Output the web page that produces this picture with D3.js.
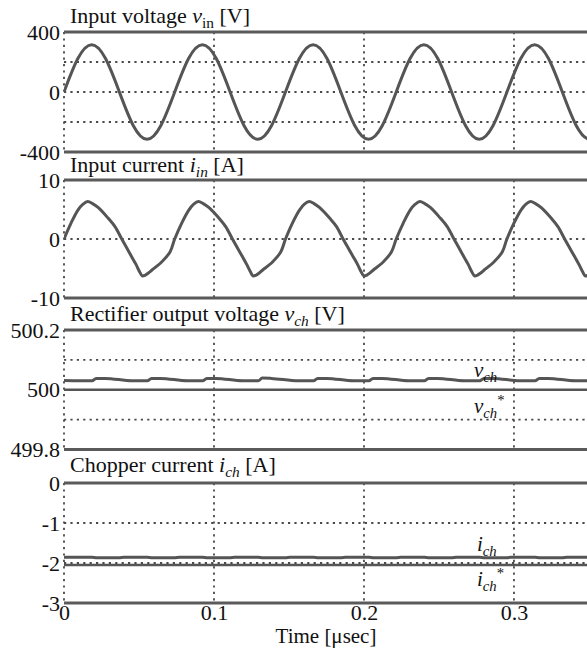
<!DOCTYPE html>
<html><head><meta charset="utf-8">
<script src="https://cdn.jsdelivr.net/npm/d3@7"></script>
<style>
html,body{margin:0;padding:0;background:#fff;}
svg{display:block;}
svg text{font-family:"Liberation Serif","Times New Roman",serif !important;}
</style></head>
<body>
<svg id="chart" width="587" height="650"></svg>
<script>
// ---------- DATA ----------
const timeTicks = [0, 0.1, 0.2, 0.3];
const timeTickLabels = ["0", "0.1", "0.2", "0.3"];

// Input voltage v_in [V]
const vinTime = [0, 0.00923, 0.01846, 0.02769, 0.03692, 0.04614, 0.05537, 0.0646,
  0.07383, 0.08306, 0.09229, 0.10152, 0.11075, 0.11998, 0.12921, 0.13844,
  0.14767, 0.1569, 0.16612, 0.17535, 0.18458, 0.19381, 0.20304, 0.21227,
  0.2215, 0.23073, 0.23996, 0.24919, 0.25842, 0.26765, 0.27688, 0.2861,
  0.29533, 0.30456, 0.31379, 0.32302, 0.33225, 0.34148, 0.35071, 0.35994, 0.36917];
const vinValue = [0, 223, 315, 223, 0, -223, -315, -223,
  0, 223, 315, 223, 0, -223, -315, -223,
  0, 223, 315, 223, 0, -223, -315, -223,
  0, 223, 315, 223, 0, -223, -315, -223,
  0, 223, 315, 223, 0, -223, -315, -223, 0];
const vinTicks = [400, 0, -400];
const vinTickLabels = ["400", "0", "-400"];
const vinGrid = [200, 0, -200];

// Input current i_in [A]
const iinTime = [
  0, 0.0047, 0.0093, 0.0127, 0.0158, 0.0190, 0.0229, 0.0295, 0.0340, 0.0385, 0.0417, 0.0451, 0.0480, 0.0503, 0.0522, 0.0540, 0.0563, 0.0585, 0.0651, 0.0707,
  0.0738, 0.0785, 0.0832, 0.0865, 0.0896, 0.0928, 0.0967, 0.1034, 0.1078, 0.1123, 0.1155, 0.1190, 0.1218, 0.1242, 0.1260, 0.1278, 0.1302, 0.1323, 0.1390, 0.1445,
  0.1477, 0.1523, 0.1570, 0.1603, 0.1635, 0.1667, 0.1705, 0.1772, 0.1817, 0.1861, 0.1893, 0.1928, 0.1957, 0.1980, 0.1999, 0.2017, 0.2040, 0.2061, 0.2128, 0.2183,
  0.2215, 0.2262, 0.2308, 0.2342, 0.2373, 0.2405, 0.2444, 0.2510, 0.2555, 0.2600, 0.2632, 0.2666, 0.2695, 0.2718, 0.2737, 0.2755, 0.2778, 0.2800, 0.2866, 0.2922,
  0.2953, 0.3000, 0.3047, 0.3080, 0.3111, 0.3143, 0.3182, 0.3249, 0.3293, 0.3338, 0.3370, 0.3405, 0.3433, 0.3457, 0.3475, 0.3493, 0.3517, 0.3538];
const iinValue = [
  0, 2.7, 4.9, 5.9, 6.35, 6.0, 5.3, 3.5, 2.1, 0, -1.45, -3.0, -4.3, -5.5, -6.25, -6.15, -5.75, -5.3, -3.9, -2.2,
  0, 2.7, 4.9, 5.9, 6.35, 6.0, 5.3, 3.5, 2.1, 0, -1.45, -3.0, -4.3, -5.5, -6.25, -6.15, -5.75, -5.3, -3.9, -2.2,
  0, 2.7, 4.9, 5.9, 6.35, 6.0, 5.3, 3.5, 2.1, 0, -1.45, -3.0, -4.3, -5.5, -6.25, -6.15, -5.75, -5.3, -3.9, -2.2,
  0, 2.7, 4.9, 5.9, 6.35, 6.0, 5.3, 3.5, 2.1, 0, -1.45, -3.0, -4.3, -5.5, -6.25, -6.15, -5.75, -5.3, -3.9, -2.2,
  0, 2.7, 4.9, 5.9, 6.35, 6.0, 5.3, 3.5, 2.1, 0, -1.45, -3.0, -4.3, -5.5, -6.25, -6.15, -5.75, -5.3];
const iinTicks = [10, 0, -10];
const iinTickLabels = ["10", "0", "-10"];
const iinGrid = [0];

// Rectifier output voltage v_ch [V]
const vchTime = [0, 0.0187, 0.0214, 0.0274, 0.0454, 0.0556, 0.0583, 0.0643, 0.0823,
  0.0925, 0.0952, 0.1012, 0.1192, 0.1295, 0.1322, 0.1382, 0.1562,
  0.1664, 0.1691, 0.1751, 0.1931, 0.2033, 0.2060, 0.2120, 0.2300,
  0.2403, 0.2430, 0.2490, 0.2670, 0.2772, 0.2799, 0.2859, 0.3039,
  0.3141, 0.3168, 0.3228, 0.3408, 0.349];
const vchValue = [500.031, 500.030, 500.038, 500.038, 500.030, 500.030, 500.038, 500.038, 500.030,
  500.030, 500.038, 500.038, 500.030, 500.030, 500.039, 500.038, 500.030,
  500.030, 500.038, 500.038, 500.030, 500.030, 500.038, 500.038, 500.030,
  500.030, 500.038, 500.038, 500.030, 500.030, 500.038, 500.038, 500.030,
  500.030, 500.038, 500.038, 500.030, 500.030];
const vchRefTime = [0, 0.349];
const vchRefValue = [500, 500];
const vchTicks = [500.2, 500, 499.8];
const vchTickLabels = ["500.2", "500", "499.8"];
const vchGrid = [500.1, 499.9];

// Chopper current i_ch [A]
const ichTime = [0, 0.0187, 0.0214, 0.0372, 0.0399,
  0.0556, 0.0583, 0.0741, 0.0768,
  0.0925, 0.0952, 0.1110, 0.1137,
  0.1295, 0.1322, 0.1480, 0.1507,
  0.1664, 0.1691, 0.1849, 0.1876,
  0.2033, 0.2060, 0.2218, 0.2245,
  0.2403, 0.2430, 0.2588, 0.2615,
  0.2772, 0.2799, 0.2957, 0.2984,
  0.3141, 0.3168, 0.3326, 0.3353, 0.349];
const ichValue = [-1.855, -1.855, -1.866, -1.866, -1.855,
  -1.855, -1.866, -1.866, -1.855,
  -1.855, -1.866, -1.866, -1.855,
  -1.855, -1.866, -1.866, -1.855,
  -1.855, -1.866, -1.866, -1.855,
  -1.855, -1.866, -1.866, -1.855,
  -1.855, -1.866, -1.866, -1.855,
  -1.855, -1.866, -1.866, -1.855,
  -1.855, -1.866, -1.866, -1.855, -1.855];
const ichRefTime = [0, 0.349];
const ichRefValue = [-2.05, -2.05];
const ichTicks = [0, -1, -2, -3];
const ichTickLabels = ["0", "-1", "-2", "-3"];
const ichGrid = [-1, -2];

// ---------- DRAW ----------
const svg = d3.select("#chart");
const W = 587, H = 650;
const lineColor = "#555";
const gridColor = "#4a4a4a";
const textColor = "#111";
const x = d3.scaleLinear().domain([0, 0.3487]).range([64, 587]);

const zip = (t, v) => t.map((d, i) => [d, v[i]]);

const panels = [
  { top: 32, bottom: 152, domain: [-400, 400], ticks: vinTicks, labels: vinTickLabels, grid: vinGrid,
    title: [["Input voltage ", "n"], ["v", "i"], ["in", "sub"], [" [V]", "n"]], titleY: 23,
    series: [{ data: zip(vinTime, vinValue), w: 3, curve: d3.curveNatural }] },
  { top: 180, bottom: 298, domain: [-10, 10], ticks: iinTicks, labels: iinTickLabels, grid: iinGrid,
    title: [["Input current ", "n"], ["i", "i"], ["in", "subi"], [" [A]", "n"]], titleY: 172,
    series: [{ data: zip(iinTime, iinValue), w: 3, curve: d3.curveCatmullRom.alpha(0.5) }] },
  { top: 330, bottom: 449.5, domain: [499.8, 500.2], ticks: vchTicks, labels: vchTickLabels, grid: vchGrid,
    title: [["Rectifier output voltage ", "n"], ["v", "i"], ["ch", "subi"], [" [V]", "n"]], titleY: 321,
    series: [{ data: zip(vchTime, vchValue), w: 3, curve: d3.curveMonotoneX },
             { data: zip(vchRefTime, vchRefValue), w: 2.5, curve: d3.curveLinear }] },
  { top: 483, bottom: 603, domain: [-3, 0], ticks: ichTicks, labels: ichTickLabels, grid: ichGrid,
    title: [["Chopper current ", "n"], ["i", "i"], ["ch", "subi"], [" [A]", "n"]], titleY: 472,
    series: [{ data: zip(ichTime, ichValue), w: 3, curve: d3.curveLinear },
             { data: zip(ichRefTime, ichRefValue), w: 2.5, curve: d3.curveLinear }] }
];

function richText(sel, parts, size) {
  let shifted = 0;
  parts.forEach(([txt, kind]) => {
    const ts = sel.append("tspan").text(txt);
    if (kind === "i") ts.attr("font-style", "italic");
    if (kind === "sub" || kind === "subi") {
      const d = size * 0.22;
      ts.attr("font-size", size * 0.7).attr("dy", d - shifted);
      if (kind === "subi") ts.attr("font-style", "italic");
      shifted = d;
    } else if (kind === "sup") {
      const d = -size * 0.38;
      ts.attr("font-size", size * 0.7).attr("dy", d - shifted);
      shifted = d;
    } else if (shifted) {
      ts.attr("dy", -shifted);
      shifted = 0;
    }
  });
}

const defs = svg.append("defs");

panels.forEach((p, pi) => {
  const y = d3.scaleLinear().domain(p.domain).range([p.bottom, p.top]);
  const g = svg.append("g");

  defs.append("clipPath").attr("id", "clip" + pi)
    .append("rect").attr("x", 64).attr("y", p.top).attr("width", W - 64).attr("height", p.bottom - p.top);

  // horizontal grid
  g.selectAll(".hg").data(p.grid).join("line")
    .attr("x1", 64).attr("x2", W)
    .attr("y1", d => y(d)).attr("y2", d => y(d))
    .attr("stroke", gridColor).attr("stroke-width", 1.8).attr("stroke-dasharray", "2.2,4.2");

  // vertical grid (incl. left edge at t=0)
  g.selectAll(".vg").data(timeTicks).join("line")
    .attr("x1", d => x(d)).attr("x2", d => x(d))
    .attr("y1", p.top).attr("y2", p.bottom)
    .attr("stroke", gridColor).attr("stroke-width", 1.8).attr("stroke-dasharray", "2.2,4.2");

  // series
  p.series.forEach(s => {
    g.append("path").datum(s.data)
      .attr("clip-path", "url(#clip" + pi + ")")
      .attr("fill", "none").attr("stroke", lineColor).attr("stroke-width", s.w)
      .attr("stroke-linejoin", "round")
      .attr("d", d3.line().x(d => x(d[0])).y(d => y(d[1])).curve(s.curve));
  });

  // top & bottom borders
  [p.top, p.bottom].forEach(yy => {
    g.append("line").attr("x1", 64).attr("x2", W).attr("y1", yy).attr("y2", yy)
      .attr("stroke", "#5a5a5a").attr("stroke-width", 3);
  });

  // y axis labels
  const ax = g.append("g").attr("transform", "translate(64,0)")
    .call(d3.axisLeft(y).tickValues(p.ticks).tickFormat((d, i) => p.labels[i]).tickSize(0).tickPadding(4));
  ax.select(".domain").remove();
  ax.attr("font-family", null).attr("font-size", null);
  ax.selectAll("text").attr("font-size", 22).attr("fill", textColor);

  // title
  const t = g.append("text").attr("x", 70).attr("y", p.titleY)
    .attr("font-size", 22).attr("fill", textColor);
  richText(t, p.title, 22);
});

// x axis
const xa = svg.append("g").attr("transform", "translate(0,603)")
  .call(d3.axisBottom(x).tickValues(timeTicks).tickFormat((d, i) => timeTickLabels[i]).tickSize(0).tickPadding(1));
xa.select(".domain").remove();
xa.attr("font-family", null).attr("font-size", null);
xa.selectAll("text").attr("font-size", 22).attr("fill", textColor);

svg.append("text").attr("x", 326).attr("y", 643).attr("text-anchor", "middle")
  .attr("font-size", 21).attr("fill", textColor).text("Time [μsec]");

// inline series labels
const inl = (xx, yy, parts) => {
  const t = svg.append("text").attr("x", xx).attr("y", yy).attr("font-size", 21).attr("fill", textColor);
  richText(t, parts, 21);
};
inl(474, 377, [["v", "i"], ["ch", "subi"]]);
inl(474, 413, [["v", "i"], ["ch", "subi"], ["*", "sup"]]);
inl(477, 551, [["i", "i"], ["ch", "subi"]]);
inl(477, 586, [["i", "i"], ["ch", "subi"], ["*", "sup"]]);
</script>
</body></html>
